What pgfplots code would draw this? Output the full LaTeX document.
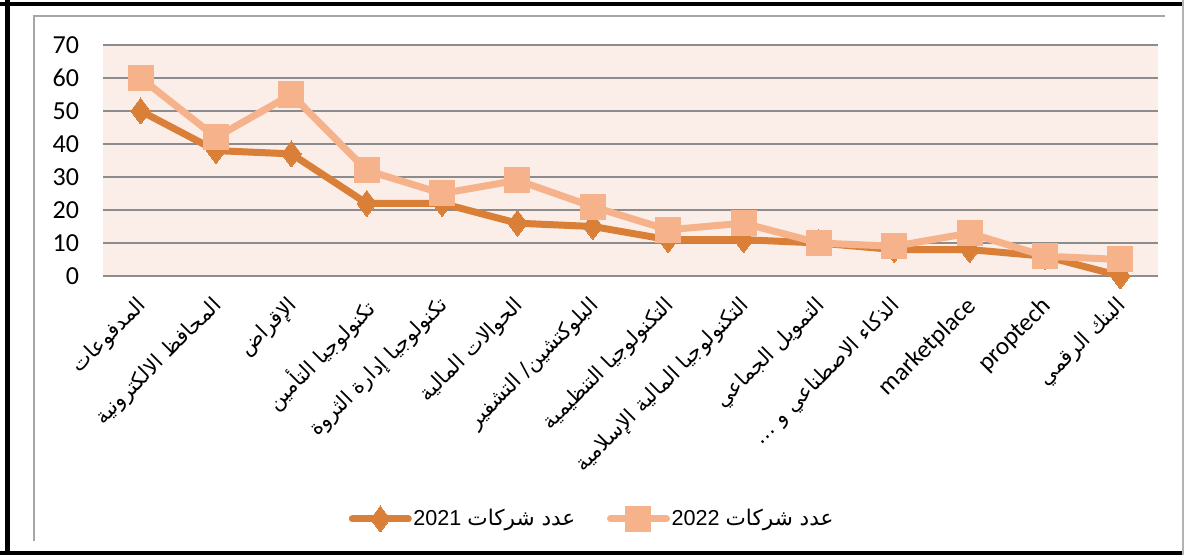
\documentclass[border=0pt]{standalone}
\usepackage{pgfplots}
\pgfplotsset{compat=1.18}
\usepackage{fontspec}
\setmainfont{Carlito}
\newfontfamily\af[Script=Arabic]{DejaVu Sans}
\newfontfamily\legfont{Liberation Sans}
\TeXXeTstate=1
\definecolor{c21}{HTML}{DA7F37}
\definecolor{c22}{HTML}{F6B28B}
\definecolor{bgc}{HTML}{FBEDE7}
\definecolor{gridc}{HTML}{8C8C8C}
\begin{document}
\begin{tikzpicture}
\useasboundingbox (0,0) rectangle (592pt,277.5pt);
\draw[black, line width=2.5pt] (3.75pt,0pt) -- (3.75pt,277.5pt);
\draw[black, line width=2.2pt] (0pt,275.6pt) -- (592pt,275.6pt);
\draw[black, line width=2.2pt] (0pt,1.1pt) -- (592pt,1.1pt);
\draw[gray!60, line width=0.8pt] (591.5pt,0pt) -- (591.5pt,277.5pt);
\draw[gray!70, line width=0.7pt] (17pt,7pt) -- (17pt,269.5pt) -- (582.5pt,269.5pt);
\begin{axis}[
  at={(51.5pt,139.5pt)}, anchor=south west,
  scale only axis, width=527.5pt, height=115.5pt,
  xmin=-0.5, xmax=13.5, ymin=0, ymax=70,
  ytick={0,10,...,70},
  xtick={0,...,13},
  xticklabels={{\af\beginR المدفوعات\endR},{\af\beginR المحافظ الالكترونية\endR},{\af\beginR الإقراض\endR},{\af\beginR تكنولوجيا التأمين\endR},{\af\beginR تكنولوجيا إدارة الثروة\endR},{\af\beginR الحوالات المالية\endR},{\af\beginR البلوكتشين/ التشفير\endR},{\af\beginR التكنولوجيا التنظيمية\endR},{\af\beginR التكنولوجيا المالية الإسلامية\endR},{\af\beginR التمويل الجماعي\endR},{\af\beginR الذكاء الاصطناعي و …\endR},{\fontsize{12.5}{14}\selectfont marketplace},{\fontsize{12.5}{14}\selectfont proptech},{\af\beginR البنك الرقمي\endR}},
  xticklabel style={xshift=-2.5pt, yshift=-9.3pt, rotate=45, anchor=north east, inner sep=0pt, font=\fontsize{10.5}{12}\selectfont},
  yticklabel style={font=\fontsize{13}{15}\selectfont, xshift=-8.5pt},
  /pgf/number format/assume math mode=true,
  major tick length=0pt,
  axis line style={draw=none},
  ymajorgrids, grid style={gridc, line width=1pt},
  axis background/.style={fill=bgc},
  clip=false,
  legend columns=2,
  legend style={at={(0.4635,-1.052)}, anchor=center, draw=none, fill=none,
    font=\fontsize{10.8}{13}\selectfont, nodes={inner sep=0.8pt},
    /tikz/every even column/.append style={column sep=15pt}},
  legend image code/.code={\draw[mark repeat=2,mark phase=2,#1] plot coordinates {(0pt,0pt) (14pt,0pt) (28pt,0pt)};},
]
\addplot[c21, line width=3.5pt, line join=round, line cap=round, mark=diamond*, mark size=6.5pt, mark options={solid, fill=c21, draw=c21, line width=0pt}]
  coordinates {(0,50) (1,38) (2,37) (3,22) (4,22) (5,16) (6,15) (7,11) (8,11) (9,10) (10,8) (11,8) (12,6) (13,0)};
\addlegendentry{\legfont 2021 {\af\beginR عدد شركات\endR}}
\addplot[c22, line width=3.5pt, line join=round, line cap=round, mark=square*, mark size=6.25pt, mark options={solid, fill=c22, draw=c22, line width=0pt}]
  coordinates {(0,60) (1,42) (2,55) (3,32) (4,25) (5,29) (6,21) (7,14) (8,16) (9,10) (10,9) (11,13) (12,6) (13,5)};
\addlegendentry{\legfont 2022 {\af\beginR عدد شركات\endR}}
\end{axis}
\end{tikzpicture}
\end{document}
